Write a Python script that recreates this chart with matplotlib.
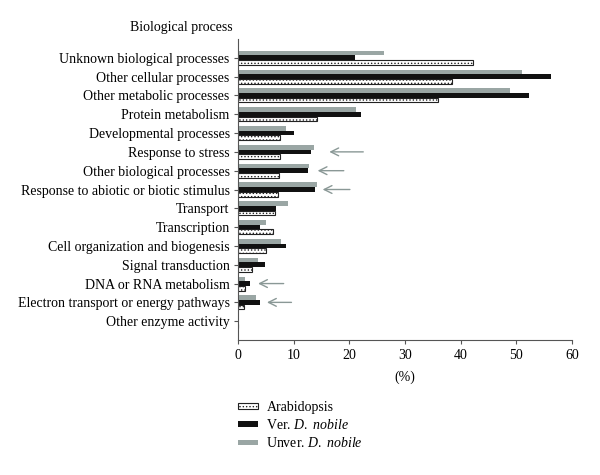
import matplotlib.pyplot as plt
import numpy as np

plt.rcParams['font.family'] = ['Liberation Serif', 'DejaVu Serif']
plt.rcParams['mathtext.fontset'] = 'custom'
plt.rcParams['mathtext.it'] = 'Liberation Serif:italic'
plt.rcParams['mathtext.rm'] = 'Liberation Serif'
plt.rcParams['hatch.linewidth'] = 0.6

categories = ['Unknown biological processes', 'Other cellular processes',
              'Other metabolic processes', 'Protein metabolism',
              'Developmental processes', 'Response to stress',
              'Other biological processes', 'Response to abiotic or biotic stimulus',
              'Transport', 'Transcription', 'Cell organization and biogenesis',
              'Signal transduction', 'DNA or RNA metabolism',
              'Electron transport or energy pathways', 'Other enzyme activity']
arabidopsis = [42.2, 38.5, 36.0, 14.1, 7.6, 7.6, 7.4, 7.1, 6.7, 6.3, 5.1, 2.6, 1.3, 1.1, 0]
ver_nobile = [21.0, 56.3, 52.2, 22.1, 10.1, 13.2, 12.5, 13.8, 6.9, 4.0, 8.7, 4.8, 2.2, 3.9, 0]
unver_nobile = [26.2, 51.1, 48.8, 21.2, 8.6, 13.7, 12.8, 14.1, 9.0, 5.0, 7.7, 3.6, 1.3, 3.2, 0]

# arrows marking categories of interest: (category index, tail x, head x)
arrow_rows = [5, 6, 7, 12, 13]
arrow_tail = [23.0, 19.5, 20.6, 8.7, 10.1]
arrow_head = [15.9, 13.8, 14.7, 3.1, 4.7]

gray = '#9aa6a4'
pos = np.arange(len(categories))
h = 0.25

fig = plt.figure(figsize=(6, 4.75), dpi=100)
ax = fig.add_axes([0.3967, 0.2842, 0.5566, 0.6337])

ax.barh(pos - h, unver_nobile, height=h, color=gray, label=r'Unver. $\mathit{D.\ nobile}$')
ax.barh(pos, ver_nobile, height=h, color='#111111', label=r'Ver. $\mathit{D.\ nobile}$')
ax.barh(pos + h, arabidopsis, height=h, color='white', edgecolor='#222222',
        linewidth=0.8, hatch='.....', label='Arabidopsis')

for r, t, hd in zip(arrow_rows, arrow_tail, arrow_head):
    ax.annotate('', xy=(hd, pos[r]), xytext=(t, pos[r]),
                arrowprops=dict(arrowstyle='->', color='#8a9896', lw=1.0,
                                mutation_scale=14))

ax.set_ylim(len(categories), -1)
ax.set_xlim(0, 60)
ax.set_yticks(pos)
ax.set_yticklabels(categories, fontsize=10)
ax.set_xticks([0, 10, 20, 30, 40, 50, 60])
ax.tick_params(axis='x', labelsize=10, length=3, color='#555555')
ax.tick_params(axis='y', length=3, color='#555555', pad=3)
for s in ['top', 'right']:
    ax.spines[s].set_visible(False)
for s in ['left', 'bottom']:
    ax.spines[s].set_color('#555555')
ax.set_xlabel('(%)', fontsize=10, labelpad=6)

fig.text(0.387, 0.943, 'Biological process', fontsize=10, ha='right', va='center')

handles, labels = ax.get_legend_handles_labels()
ax.legend(handles[::-1], labels[::-1], loc='upper left', bbox_to_anchor=(0.0, -0.203),
          frameon=False, fontsize=10, handlelength=1.45, handleheight=0.25,
          labelspacing=0.3, handletextpad=0.6, borderpad=0, borderaxespad=0)

plt.savefig('out.png', dpi=100)
